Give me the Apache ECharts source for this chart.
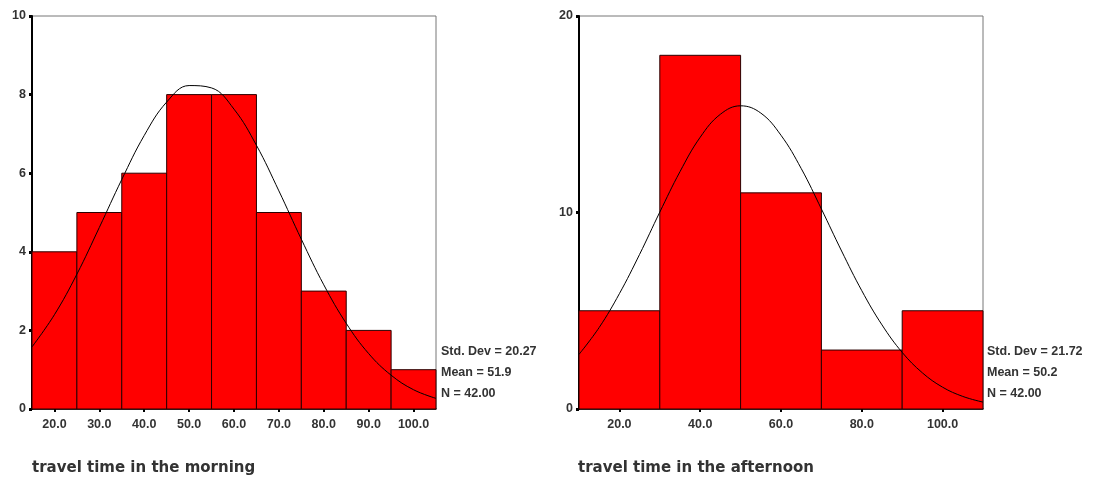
<!DOCTYPE html>
<html>
<head>
<meta charset="utf-8">
<script src="https://cdn.jsdelivr.net/npm/echarts@6/dist/echarts.min.js"></script>
<style>html,body{margin:0;padding:0;background:#fff}#c{width:1096px;height:481px}</style>
</head>
<body>
<div id="c"></div>
<script>
// Morning histogram
const amBinStart = [15, 25, 35, 45, 55, 65, 75, 85, 95];
const amBinEnd   = [25, 35, 45, 55, 65, 75, 85, 95, 105];
const amCounts   = [4, 5, 6, 8, 8, 5, 3, 2, 1];
const amCurveX   = [15, 20, 25, 30, 35, 40, 45, 50, 55, 60, 65, 70, 75, 80, 85, 90, 95, 100, 105];
const amCurveY   = [1.58, 2.40, 3.43, 4.62, 5.84, 6.96, 7.81, 8.23, 8.17, 7.63, 6.71, 5.55, 4.32, 3.16, 2.18, 1.41, 0.86, 0.49, 0.27];
const amXTicks   = [20, 30, 40, 50, 60, 70, 80, 90, 100];
const amStats    = ['Std. Dev = 20.27', 'Mean = 51.9', 'N = 42.00'];
const amTitle    = 'travel time in the morning';

// Afternoon histogram
const pmBinStart = [10, 30, 50, 70, 90];
const pmBinEnd   = [30, 50, 70, 90, 110];
const pmCounts   = [5, 18, 11, 3, 5];
const pmCurveX   = [10, 15, 20, 25, 30, 35, 40, 45, 50, 55, 60, 65, 70, 75, 80, 85, 90, 95, 100, 105, 110];
const pmCurveY   = [2.78, 4.15, 5.87, 7.87, 10.02, 12.08, 13.83, 15.00, 15.43, 15.06, 13.93, 12.24, 10.18, 8.04, 6.02, 4.28, 2.88, 1.84, 1.11, 0.64, 0.35];
const pmXTicks   = [20, 40, 60, 80, 100];
const pmStats    = ['Std. Dev = 21.72', 'Mean = 50.2', 'N = 42.00'];
const pmTitle    = 'travel time in the afternoon';

const zip3 = (a, b, c) => a.map((v, i) => [v, b[i], c[i]]);
const zip2 = (a, b) => a.map((v, i) => [v, b[i]]);

function renderBar(params, api) {
  const p0 = api.coord([api.value(0), api.value(2)]);
  const p1 = api.coord([api.value(1), 0]);
  return {
    type: 'rect',
    shape: { x: p0[0], y: p0[1], width: p1[0] - p0[0], height: p1[1] - p0[1] },
    style: { fill: '#ff0000', stroke: '#2a0000', lineWidth: 1 }
  };
}

const labelFont = { fontFamily: 'Liberation Sans, Arial, sans-serif', fontSize: 12.5, fontWeight: 'bold', color: '#333' };

function xAxisCfg(idx, min, max, ticks) {
  return {
    gridIndex: idx, type: 'value', min: min, max: max,
    axisLine: { show: true, lineStyle: { color: '#000', width: 1.5 } },
    axisTick: { show: true, customValues: ticks, length: 3, lineStyle: { color: '#000', width: 2 } },
    axisLabel: Object.assign({ customValues: ticks, margin: 9, formatter: v => v.toFixed(1) }, labelFont),
    splitLine: { show: false }
  };
}
function yAxisCfg(idx, max, interval) {
  return {
    gridIndex: idx, type: 'value', min: 0, max: max, interval: interval,
    axisLine: { show: true, lineStyle: { color: '#000', width: 2 } },
    axisTick: { show: true, length: 3, lineStyle: { color: '#000', width: 3 } },
    axisLabel: Object.assign({ margin: 6 }, labelFont),
    splitLine: { show: false }
  };
}

const statStyle = { fontFamily: 'Liberation Sans, Arial, sans-serif', fontSize: 12.5, fontWeight: 'bold', fill: '#333' };
const titleStyle = { fontFamily: 'DejaVu Sans, Verdana, sans-serif', fontSize: 15, fontWeight: 'bold', fill: '#333' };

function statTexts(x, lines) {
  return lines.map((t, i) => ({ type: 'text', left: x, top: 345 + i * 21, style: Object.assign({ text: t }, statStyle) }));
}

const option = {
  animation: false,
  backgroundColor: '#fff',
  grid: [
    { left: 32, top: 16, width: 404, height: 393, show: true, borderColor: '#777', borderWidth: 1, outerBoundsMode: 'none' },
    { left: 579, top: 16, width: 404, height: 393, show: true, borderColor: '#777', borderWidth: 1, outerBoundsMode: 'none' }
  ],
  xAxis: [xAxisCfg(0, 15, 105, amXTicks), xAxisCfg(1, 10, 110, pmXTicks)],
  yAxis: [yAxisCfg(0, 10, 2), yAxisCfg(1, 20, 10)],
  series: [
    { type: 'custom', xAxisIndex: 0, yAxisIndex: 0, renderItem: renderBar, data: zip3(amBinStart, amBinEnd, amCounts), z: 2 },
    { type: 'line', xAxisIndex: 0, yAxisIndex: 0, data: zip2(amCurveX, amCurveY), smooth: 0.4, showSymbol: false, lineStyle: { color: '#000', width: 1 }, z: 3 },
    { type: 'custom', xAxisIndex: 1, yAxisIndex: 1, renderItem: renderBar, data: zip3(pmBinStart, pmBinEnd, pmCounts), z: 2 },
    { type: 'line', xAxisIndex: 1, yAxisIndex: 1, data: zip2(pmCurveX, pmCurveY), smooth: 0.4, showSymbol: false, lineStyle: { color: '#000', width: 1 }, z: 3 }
  ],
  graphic: [
    { type: 'text', left: 32, top: 461, style: Object.assign({ text: amTitle }, titleStyle) },
    { type: 'text', left: 578, top: 461, style: Object.assign({ text: pmTitle }, titleStyle) }
  ].concat(statTexts(441, amStats)).concat(statTexts(987, pmStats))
};

const chart = echarts.init(document.getElementById('c'), null, { renderer: 'canvas' });
chart.setOption(option);
</script>
</body>
</html>
